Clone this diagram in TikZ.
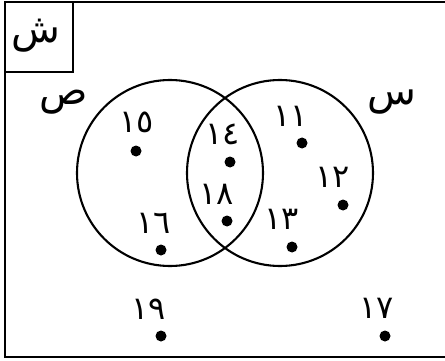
\documentclass[tikz,border=0pt]{standalone}
\usepackage{fontspec}
\newfontfamily\arabicfont[Script=Arabic]{DejaVu Sans}
\TeXXeTstate=1
\begin{document}
\begin{tikzpicture}[
    x=1pt,
    y=-1pt,
    punto/.style={circle, fill=black, inner sep=0pt, minimum size=11pt},
    cifra/.style={inner sep=0pt, font=\fontsize{32}{32}\arabicfont},
    letra/.style={inner sep=0pt, font=\fontsize{40}{40}\arabicfont}
  ]
    \useasboundingbox (0,0) rectangle (445,361);

    % Marco del conjunto universal (el borde derecho queda fuera)
    \draw[line width=2.4pt] (445,2) -- (5,2) -- (5,357) -- (445,357);
    \draw[line width=2pt] (5,72) -- (73,72) -- (73,2);
    \node[letra] (shin) at (36,36) {\beginR ش\endR};

    % --- Conjuntos (centros 170 y 280; radio 93) ---
    \draw[line width=2.1pt] (170,173) circle[radius=93];
    \draw[line width=2.1pt] (280,173) circle[radius=93];
    \node[letra] (sad) at (64,102) {\beginR ص\endR};
    \node[letra] (sin) at (392,102) {\beginR س\endR};

    % --- Solo en ص ---
    \node[cifra] (e15) at (137,122) {١٥};
    \node[punto] (p15) at (136,151) {};
    \node[cifra] (e16) at (154,223) {١٦};
    \node[punto] (p16) at (161,250) {};

    % --- Interseccion ---
    \node[cifra] (e14) at (223,134) {١٤};
    \node[punto] (p14) at (230,162) {};
    \node[cifra] (e18) at (217,194) {١٨};
    \node[punto] (p18) at (227,221) {};

    % --- Solo en س ---
    \node[cifra] (e11) at (291,116) {١١};
    \node[punto] (p11) at (302,143) {};
    \node[cifra] (e12) at (333,177) {١٢};
    \node[punto] (p12) at (343,205) {};
    \node[cifra] (e13) at (282,219) {١٣};
    \node[punto] (p13) at (292,247) {};

    % --- Fuera de ambos ---
    \node[cifra] (e19) at (149,309) {١٩};
    \node[punto] (p19) at (161,336) {};
    \node[cifra] (e17) at (377,308) {١٧};
    \node[punto] (p17) at (385,336) {};
  \end{tikzpicture}
\end{document}
